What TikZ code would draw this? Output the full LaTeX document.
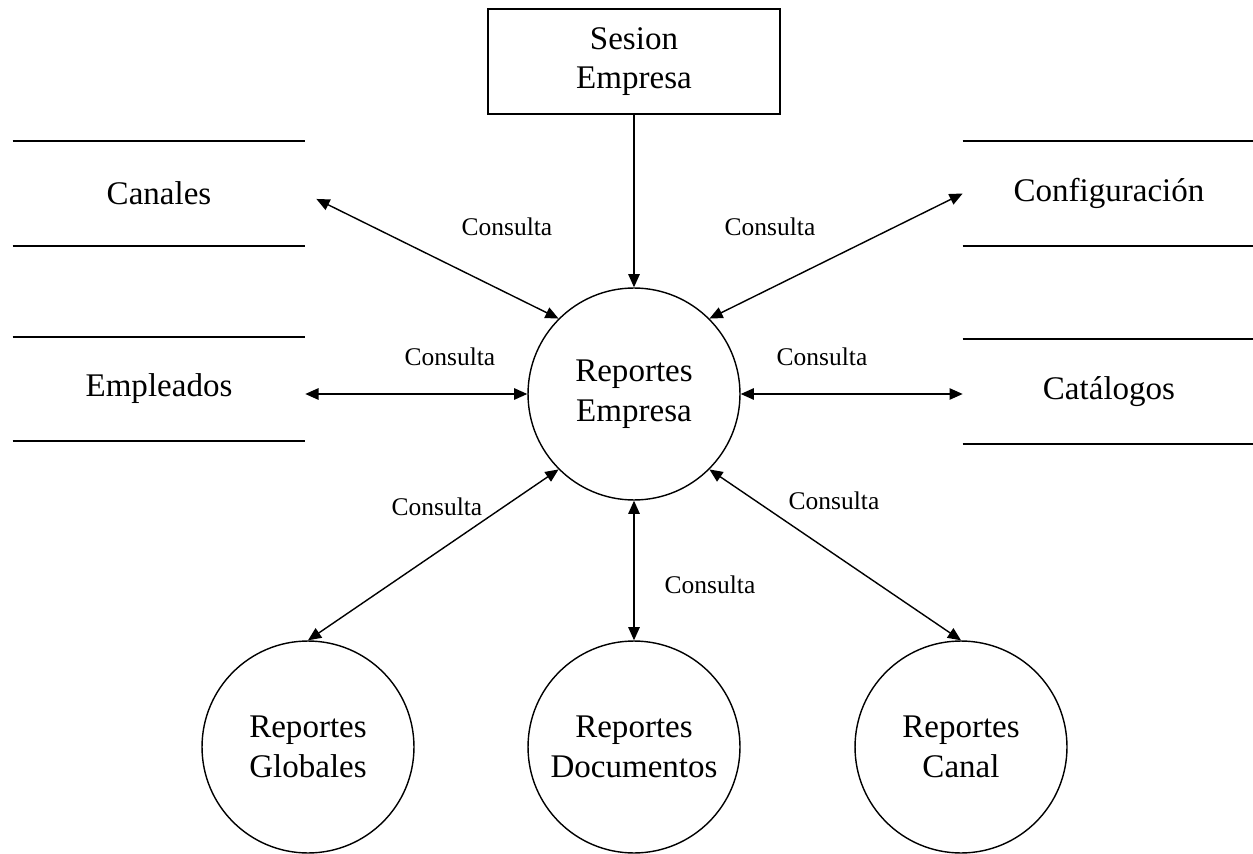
\documentclass[tikz,border=0pt]{standalone}
\usepackage{fontspec}
\setmainfont{Liberation Serif}
\usetikzlibrary{arrows.meta}

\tikzset{
  proc/.style={draw, circle, line width=0.8pt, minimum size=4.24cm, inner sep=0pt, align=center, font=\fontsize{18.8}{22.5}\selectfont},
  ent/.style={draw, rectangle, line width=0.8pt, minimum width=5.84cm, minimum height=2.1cm, align=center, font=\fontsize{18.8}{22.5}\selectfont},
  store/.style={minimum width=5.84cm, minimum height=2.08cm, inner sep=0pt, font=\fontsize{18.8}{22.5}\selectfont},
  lbl/.style={inner sep=1pt, font=\fontsize{14.5}{17}\selectfont},
  flujo/.style={line width=0.8pt, {Triangle[length=7.5pt,width=6.5pt]}-{Triangle[length=7.5pt,width=6.5pt]}}
}

\begin{document}
\begin{tikzpicture}[x=0.02cm, y=-0.02cm]
    \useasboundingbox (0,0) rectangle (1253,854);
    % procesos y entidad
    \node[ent] (ses) at (634,61.5) {Sesion\\Empresa};
    \node[proc] (cen) at (634,394) {Reportes\\Empresa};
    \node[proc] (glob) at (308,747) {Reportes\\Globales};
    \node[proc] (doc) at (634,747) {Reportes\\Documentos};
    \node[proc] (canal) at (961,747) {Reportes\\Canal};
    % almacenes
    \node[store] (can) at (159,193.5) {Canales};
    \node[store] (emp) at (159,389) {Empleados};
    \node[store] (conf) at (1109,193.5) {Configuración};
    \node[store] (cat) at (1109,391.5) {Catálogos};
    \foreach \s in {can,emp,conf,cat}
        \draw[line width=1pt] (\s.north west) -- (\s.north east) (\s.south west) -- (\s.south east);
    % flujos
    \draw[line width=0.8pt, -{Triangle[length=7.5pt,width=6.5pt]}] (ses.south) -- (cen.north);
    \draw[flujo, shorten >=7pt] (cen.north west) -- (can.east);
    \draw[flujo] (cen.north east) -- (conf.west);
    \draw[flujo] (cen.west) -- (cen.west -| emp.east);
    \draw[flujo] (cen.east) -- (cen.east -| cat.west);
    \draw[flujo] (cen.south west) -- (glob.north);
    \draw[flujo] (cen.south) -- (doc.north);
    \draw[flujo] (cen.south east) -- (canal.north);
    % etiquetas
    \node[lbl] (l1) at (507,227) {Consulta};
    \node[lbl] (l2) at (770,227) {Consulta};
    \node[lbl] (l3) at (450,357) {Consulta};
    \node[lbl] (l4) at (822,357) {Consulta};
    \node[lbl] (l5) at (437,507) {Consulta};
    \node[lbl] (l6) at (710,585) {Consulta};
    \node[lbl] (l7) at (834,501) {Consulta};
\end{tikzpicture}
\end{document}
